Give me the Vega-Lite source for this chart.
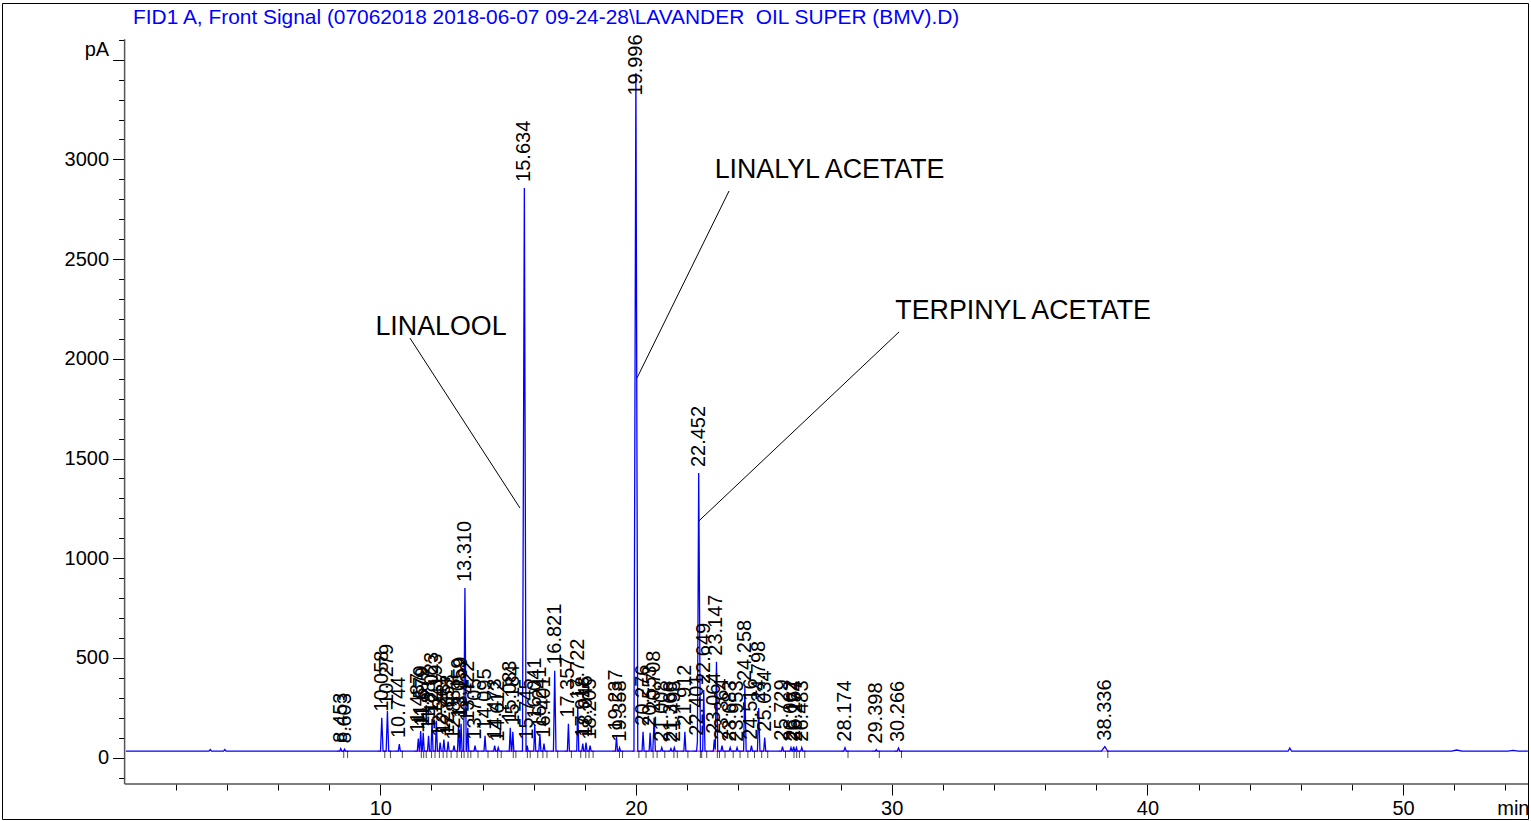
{
  "$schema": "https://vega.github.io/schema/vega-lite/v6.json",
  "width": 1526,
  "height": 816,
  "autosize": "none",
  "padding": {"left": 2, "top": 3, "right": 3, "bottom": 2},
  "background": "white",
  "config": {"view": {"stroke": "black", "strokeWidth": 1}, "font": "Liberation Sans"},
  "title": {"text": "FID1 A, Front Signal (07062018 2018-06-07 09-24-28\\LAVANDER\u00a0 OIL SUPER (BMV).D)", "anchor": "start", "frame": "group", "offset": -25, "dx": 131, "color": "#0000ff", "fontSize": 20.9, "fontWeight": "normal", "font": "Liberation Sans"},
  "datasets": {
    "signal": [
      {"t":0.05,"pA":32},{"t":3.3,"pA":32},{"t":3.35,"pA":40},{"t":3.4,"pA":32},{"t":3.87,"pA":32},{"t":3.92,"pA":40},{"t":3.97,"pA":32},
      {"t":8.413,"pA":32},{"t":8.453,"pA":45},{"t":8.493,"pA":32},
      {"t":8.563,"pA":32},{"t":8.603,"pA":42},{"t":8.643,"pA":32},
      {"t":10.008,"pA":32},{"t":10.058,"pA":200},{"t":10.108,"pA":32},
      {"t":10.229,"pA":32},{"t":10.279,"pA":234},{"t":10.329,"pA":32},
      {"t":10.704,"pA":32},{"t":10.744,"pA":68},{"t":10.784,"pA":32},
      {"t":11.447,"pA":32},{"t":11.487,"pA":95},{"t":11.527,"pA":32},
      {"t":11.539,"pA":32},{"t":11.579,"pA":133},{"t":11.619,"pA":32},
      {"t":11.639,"pA":32},{"t":11.679,"pA":125},{"t":11.719,"pA":32},
      {"t":11.847,"pA":32},{"t":11.887,"pA":110},{"t":11.927,"pA":32},
      {"t":11.983,"pA":32},{"t":12.023,"pA":193},{"t":12.063,"pA":32},
      {"t":12.153,"pA":32},{"t":12.193,"pA":185},{"t":12.233,"pA":32},
      {"t":12.301,"pA":32},{"t":12.341,"pA":75},{"t":12.381,"pA":32},
      {"t":12.447,"pA":32},{"t":12.487,"pA":90},{"t":12.527,"pA":32},
      {"t":12.613,"pA":32},{"t":12.653,"pA":80},{"t":12.693,"pA":32},
      {"t":12.843,"pA":32},{"t":12.883,"pA":60},{"t":12.923,"pA":32},
      {"t":13.019,"pA":32},{"t":13.059,"pA":165},{"t":13.099,"pA":32},
      {"t":13.119,"pA":32},{"t":13.159,"pA":170},{"t":13.199,"pA":32},
      {"t":13.26,"pA":32},{"t":13.31,"pA":850},{"t":13.36,"pA":32},
      {"t":13.382,"pA":32},{"t":13.422,"pA":150},{"t":13.462,"pA":32},
      {"t":13.665,"pA":32},{"t":13.705,"pA":60},{"t":13.745,"pA":32},
      {"t":14.055,"pA":32},{"t":14.095,"pA":110},{"t":14.135,"pA":32},
      {"t":14.433,"pA":32},{"t":14.473,"pA":60},{"t":14.513,"pA":32},
      {"t":14.572,"pA":32},{"t":14.612,"pA":50},{"t":14.652,"pA":32},
      {"t":15.043,"pA":32},{"t":15.083,"pA":150},{"t":15.123,"pA":32},
      {"t":15.144,"pA":32},{"t":15.184,"pA":130},{"t":15.224,"pA":32},
      {"t":15.56,"pA":32},{"t":15.634,"pA":2857},{"t":15.7,"pA":32},
      {"t":15.715,"pA":32},{"t":15.745,"pA":60},{"t":15.785,"pA":32},
      {"t":16.001,"pA":32},{"t":16.041,"pA":165},{"t":16.081,"pA":32},
      {"t":16.201,"pA":32},{"t":16.241,"pA":120},{"t":16.281,"pA":32},
      {"t":16.361,"pA":32},{"t":16.401,"pA":70},{"t":16.441,"pA":32},
      {"t":16.771,"pA":32},{"t":16.821,"pA":435},{"t":16.871,"pA":32},
      {"t":17.317,"pA":32},{"t":17.357,"pA":170},{"t":17.397,"pA":32},
      {"t":17.682,"pA":32},{"t":17.722,"pA":260},{"t":17.762,"pA":32},
      {"t":17.878,"pA":32},{"t":17.918,"pA":70},{"t":17.958,"pA":32},
      {"t":18.006,"pA":32},{"t":18.046,"pA":75},{"t":18.086,"pA":32},
      {"t":18.165,"pA":32},{"t":18.205,"pA":60},{"t":18.245,"pA":32},
      {"t":19.197,"pA":32},{"t":19.237,"pA":105},{"t":19.277,"pA":32},
      {"t":19.318,"pA":32},{"t":19.358,"pA":50},{"t":19.398,"pA":32},
      {"t":19.92,"pA":32},{"t":19.996,"pA":3433},{"t":20.07,"pA":32},
      {"t":20.236,"pA":32},{"t":20.276,"pA":130},{"t":20.316,"pA":32},
      {"t":20.513,"pA":32},{"t":20.553,"pA":125},{"t":20.593,"pA":32},
      {"t":20.658,"pA":32},{"t":20.708,"pA":200},{"t":20.758,"pA":32},
      {"t":20.968,"pA":32},{"t":21.008,"pA":50},{"t":21.048,"pA":32},
      {"t":21.326,"pA":32},{"t":21.366,"pA":45},{"t":21.406,"pA":32},
      {"t":21.458,"pA":32},{"t":21.498,"pA":50},{"t":21.538,"pA":32},
      {"t":21.872,"pA":32},{"t":21.912,"pA":130},{"t":21.952,"pA":32},
      {"t":22.37,"pA":32},{"t":22.401,"pA":80},{"t":22.452,"pA":1427},{"t":22.52,"pA":32},
      {"t":22.609,"pA":32},{"t":22.649,"pA":339},{"t":22.699,"pA":32},
      {"t":23.024,"pA":32},{"t":23.064,"pA":90},{"t":23.1,"pA":40},{"t":23.147,"pA":481},{"t":23.197,"pA":32},
      {"t":23.324,"pA":32},{"t":23.364,"pA":60},{"t":23.404,"pA":32},
      {"t":23.643,"pA":32},{"t":23.683,"pA":50},{"t":23.723,"pA":32},
      {"t":23.913,"pA":32},{"t":23.953,"pA":50},{"t":23.993,"pA":32},
      {"t":24.208,"pA":32},{"t":24.258,"pA":354},{"t":24.308,"pA":32},
      {"t":24.476,"pA":32},{"t":24.516,"pA":60},{"t":24.556,"pA":32},
      {"t":24.748,"pA":32},{"t":24.798,"pA":249},{"t":24.848,"pA":32},
      {"t":24.994,"pA":32},{"t":25.034,"pA":100},{"t":25.074,"pA":32},
      {"t":25.689,"pA":32},{"t":25.729,"pA":55},{"t":25.769,"pA":32},
      {"t":26.022,"pA":32},{"t":26.062,"pA":50},{"t":26.102,"pA":32},
      {"t":26.127,"pA":32},{"t":26.167,"pA":55},{"t":26.207,"pA":32},
      {"t":26.234,"pA":32},{"t":26.274,"pA":50},{"t":26.314,"pA":32},
      {"t":26.443,"pA":32},{"t":26.483,"pA":50},{"t":26.523,"pA":32},
      {"t":28.124,"pA":32},{"t":28.174,"pA":50},{"t":28.224,"pA":32},
      {"t":29.358,"pA":32},{"t":29.398,"pA":40},{"t":29.438,"pA":32},
      {"t":30.216,"pA":32},{"t":30.266,"pA":48},{"t":30.316,"pA":32},
      {"t":38.2,"pA":32},{"t":38.336,"pA":55},{"t":38.45,"pA":32},
      {"t":45.5,"pA":32},{"t":45.57,"pA":48},{"t":45.64,"pA":32},
      {"t":51.9,"pA":32},{"t":52.1,"pA":38},{"t":52.3,"pA":32},
      {"t":54.1,"pA":32},{"t":54.3,"pA":36},{"t":54.5,"pA":32},
      {"t":54.88,"pA":32}
    ],
    "peaks": [
      {"rt":"8.453","t":8.453,"h":45},{"rt":"8.603","t":8.603,"h":42},
      {"rt":"10.058","t":10.058,"h":200},{"rt":"10.279","t":10.279,"h":234},{"rt":"10.744","t":10.744,"h":68},
      {"rt":"11.487","t":11.487,"h":95},{"rt":"11.579","t":11.579,"h":133},{"rt":"11.679","t":11.679,"h":125},
      {"rt":"11.887","t":11.887,"h":110},{"rt":"12.023","t":12.023,"h":193},{"rt":"12.193","t":12.193,"h":185},
      {"rt":"12.341","t":12.341,"h":75},{"rt":"12.487","t":12.487,"h":90},{"rt":"12.653","t":12.653,"h":80},
      {"rt":"12.883","t":12.883,"h":60},{"rt":"13.059","t":13.059,"h":165},{"rt":"13.159","t":13.159,"h":170},
      {"rt":"13.310","t":13.31,"h":850},{"rt":"13.422","t":13.422,"h":150},{"rt":"13.705","t":13.705,"h":60},
      {"rt":"14.095","t":14.095,"h":110},{"rt":"14.473","t":14.473,"h":60},{"rt":"14.612","t":14.612,"h":50},
      {"rt":"15.083","t":15.083,"h":150},{"rt":"15.184","t":15.184,"h":130},{"rt":"15.634","t":15.634,"h":2857},
      {"rt":"15.745","t":15.745,"h":60},{"rt":"16.041","t":16.041,"h":165},{"rt":"16.241","t":16.241,"h":120},
      {"rt":"16.401","t":16.401,"h":70},{"rt":"16.821","t":16.821,"h":435},{"rt":"17.357","t":17.357,"h":170},
      {"rt":"17.722","t":17.722,"h":260},{"rt":"17.918","t":17.918,"h":70},{"rt":"18.046","t":18.046,"h":75},
      {"rt":"18.205","t":18.205,"h":60},{"rt":"19.237","t":19.237,"h":105},{"rt":"19.358","t":19.358,"h":50},
      {"rt":"19.996","t":19.996,"h":3433},{"rt":"20.276","t":20.276,"h":130},{"rt":"20.553","t":20.553,"h":125},
      {"rt":"20.708","t":20.708,"h":200},{"rt":"21.008","t":21.008,"h":50},{"rt":"21.366","t":21.366,"h":45},
      {"rt":"21.498","t":21.498,"h":50},{"rt":"21.912","t":21.912,"h":130},{"rt":"22.401","t":22.401,"h":80},
      {"rt":"22.452","t":22.452,"h":1427},{"rt":"22.649","t":22.649,"h":339},{"rt":"23.064","t":23.064,"h":90},
      {"rt":"23.147","t":23.147,"h":481},{"rt":"23.364","t":23.364,"h":60},{"rt":"23.683","t":23.683,"h":50},
      {"rt":"23.953","t":23.953,"h":50},{"rt":"24.258","t":24.258,"h":354},{"rt":"24.516","t":24.516,"h":60},
      {"rt":"24.798","t":24.798,"h":249},{"rt":"25.034","t":25.034,"h":100},{"rt":"25.729","t":25.729,"h":55},
      {"rt":"26.062","t":26.062,"h":50},{"rt":"26.167","t":26.167,"h":55},{"rt":"26.274","t":26.274,"h":50},
      {"rt":"26.483","t":26.483,"h":50},{"rt":"28.174","t":28.174,"h":50},{"rt":"29.398","t":29.398,"h":40},
      {"rt":"30.266","t":30.266,"h":48},{"rt":"38.336","t":38.336,"h":55}
    ],
    "notes": [
      {"label":"LINALOOL","t":12.374,"v":2159,"t1":11.16,"v1":2104,"t2":15.46,"v2":1252},
      {"label":"LINALYL ACETATE","t":27.57,"v":2947,"t1":23.64,"v1":2842,"t2":20.04,"v2":1904},
      {"label":"TERPINYL ACETATE","t":35.14,"v":2240,"t1":30.29,"v1":2135,"t2":22.46,"v2":1187}
    ]
  },
  "resolve": {"axis": {"x": "independent", "y": "independent"}},
  "layer": [
    {
      "data": {"name": "peaks"},
      "mark": {"type": "tick", "orient": "horizontal", "color": "#ff40c0", "size": 8, "thickness": 1.5},
      "encoding": {
        "x": {"field": "t", "type": "quantitative", "scale": {"domain": [-4.7947, 54.885], "nice": false, "zero": false}, "axis": null},
        "y": {"datum": 32, "type": "quantitative", "scale": {"domain": [-307.9, 3784.4], "nice": false, "zero": false}, "axis": null}
      }
    },
    {
      "data": {"name": "signal"},
      "mark": {"type": "line", "color": "#0000ff", "strokeWidth": 1.3, "interpolate": "linear"},
      "encoding": {
        "x": {"field": "t", "type": "quantitative", "scale": {"domain": [-4.7947, 54.885], "nice": false, "zero": false},
          "axis": {"orient": "bottom", "offset": -35, "values": [10, 20, 30, 40, 50], "tickSize": 11, "tickColor": "black", "tickWidth": 1, "domain": false, "grid": false, "labelFontSize": 20, "labelFont": "Liberation Sans", "labelColor": "black", "labelPadding": 3, "labelOverlap": false, "labelFlush": false,
            "title": "min", "titleX": 1527, "titleY": 24, "titleAlign": "right", "titleBaseline": "middle", "titleAngle": 0, "titleFontSize": 20, "titleFontWeight": "normal", "titleFont": "Liberation Sans", "titleColor": "black"}},
        "y": {"field": "pA", "type": "quantitative", "scale": {"domain": [-307.9, 3784.4], "nice": false, "zero": false},
          "axis": {"orient": "left", "offset": -122.6, "values": [0, 500, 1000, 1500, 2000, 2500, 3000, 3500], "format": "d", "labelExpr": "datum.value == 3500 ? 'pA' : datum.label", "labelBaseline": {"condition": {"test": "datum.value == 3500", "value": "bottom"}, "value": "middle"}, "tickSize": 12, "tickColor": "black", "tickWidth": 1, "domain": false, "grid": false, "labelFontSize": 20, "labelFont": "Liberation Sans", "labelColor": "black", "labelPadding": 4, "labelOverlap": false, "labelFlush": false, "title": null}}
      }
    },
    {
      "data": {"name": "peaks"},
      "mark": {"type": "tick", "orient": "vertical", "color": "black", "size": 7, "thickness": 1, "xOffset": 3},
      "encoding": {
        "x": {"field": "t", "type": "quantitative", "scale": {"domain": [-4.7947, 54.885], "nice": false, "zero": false},
          "axis": {"orient": "bottom", "offset": -35, "values": [2, 4, 6, 8, 12, 14, 16, 18, 22, 24, 26, 28, 32, 34, 36, 38, 42, 44, 46, 48, 52, 54], "tickSize": 6, "tickColor": "black", "tickWidth": 1, "domain": false, "grid": false, "labels": false, "title": null}},
        "y": {"datum": 16, "type": "quantitative", "scale": {"domain": [-307.9, 3784.4], "nice": false, "zero": false},
          "axis": {"orient": "left", "offset": -122.6, "values": [-100, 100, 200, 300, 400, 600, 700, 800, 900, 1100, 1200, 1300, 1400, 1600, 1700, 1800, 1900, 2100, 2200, 2300, 2400, 2600, 2700, 2800, 2900, 3100, 3200, 3300, 3400, 3600], "tickSize": 6, "tickColor": "black", "tickWidth": 1, "domain": false, "grid": false, "labels": false, "title": null}}
      }
    },
    {
      "data": {"name": "peaks"},
      "transform": [{"calculate": "min(datum.h, 3290)", "as": "ly"}],
      "mark": {"type": "text", "angle": 270, "align": "left", "baseline": "middle", "dx": 6, "fontSize": 20, "font": "Liberation Sans", "color": "black"},
      "encoding": {
        "x": {"field": "t", "type": "quantitative", "scale": {"domain": [-4.7947, 54.885], "nice": false, "zero": false}, "axis": null},
        "y": {"field": "ly", "type": "quantitative", "scale": {"domain": [-307.9, 3784.4], "nice": false, "zero": false}, "axis": null},
        "text": {"field": "rt"}
      }
    },
    {
      "data": {"values": [{}]},
      "mark": {"type": "rule", "color": "#555555", "strokeWidth": 1.5},
      "encoding": {
        "x": {"datum": 0, "type": "quantitative", "scale": {"domain": [-4.7947, 54.885], "nice": false, "zero": false}, "axis": null},
        "y": {"datum": -132, "type": "quantitative", "scale": {"domain": [-307.9, 3784.4], "nice": false, "zero": false}, "axis": null},
        "y2": {"datum": 3602}
      }
    },
    {
      "data": {"values": [{}]},
      "mark": {"type": "rule", "color": "#555555", "strokeWidth": 1.5},
      "encoding": {
        "x": {"datum": 0, "type": "quantitative", "scale": {"domain": [-4.7947, 54.885], "nice": false, "zero": false}, "axis": null},
        "x2": {"datum": 54.885},
        "y": {"datum": -132, "type": "quantitative", "scale": {"domain": [-307.9, 3784.4], "nice": false, "zero": false}, "axis": null}
      }
    },
    {
      "data": {"name": "notes"},
      "mark": {"type": "rule", "color": "black", "strokeWidth": 1},
      "encoding": {
        "x": {"field": "t1", "type": "quantitative", "scale": {"domain": [-4.7947, 54.885], "nice": false, "zero": false}, "axis": null},
        "y": {"field": "v1", "type": "quantitative", "scale": {"domain": [-307.9, 3784.4], "nice": false, "zero": false}, "axis": null},
        "x2": {"field": "t2"},
        "y2": {"field": "v2"}
      }
    },
    {
      "data": {"name": "notes"},
      "mark": {"type": "text", "align": "center", "baseline": "middle", "fontSize": 26.8, "font": "Liberation Sans", "color": "black"},
      "encoding": {
        "x": {"field": "t", "type": "quantitative", "scale": {"domain": [-4.7947, 54.885], "nice": false, "zero": false}, "axis": null},
        "y": {"field": "v", "type": "quantitative", "scale": {"domain": [-307.9, 3784.4], "nice": false, "zero": false}, "axis": null},
        "text": {"field": "label"}
      }
    }
  ]
}
